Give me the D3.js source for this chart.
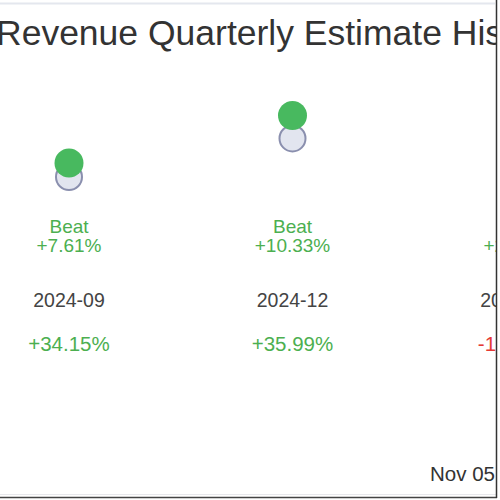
<!DOCTYPE html>
<html><head><meta charset="utf-8">
<script src="https://cdn.jsdelivr.net/npm/d3@7"></script>
<style>html,body{margin:0;padding:0;background:#fff;overflow:hidden}svg{display:block}</style>
</head><body>
<script>
const quarters = ["2024-09", "2024-12", "2025-03"];
const estimates = [184, 222.6, 230];
const actuals = [198.0, 245.6, 235];
const surprises = ["+7.61%", "+10.33%", "+2.14%"];
const surpriseLabels = ["Beat", "Beat", "Beat"];
const growth = ["+34.15%", "+35.99%", "-12.47%"];
const titleText = "Revenue Quarterly Estimate History";
const dateText = "Nov 05, 2025";

const W = 500, H = 500;
const svg = d3.select("body").append("svg").attr("width", W).attr("height", H);
const font = "'Liberation Sans', Arial, sans-serif";
const green = "#4caf50", red = "#e53935";

svg.append("defs").append("clipPath").attr("id", "clip")
  .append("rect").attr("x", -10).attr("y", 0).attr("width", 506).attr("height", 500);

const content = svg.append("g").attr("clip-path", "url(#clip)");

content.append("line").attr("x1", 0).attr("x2", 495).attr("y1", 3.5).attr("y2", 3.5)
  .attr("stroke", "#e4e7ee").attr("stroke-width", 2);
content.append("line").attr("x1", 0).attr("x2", 497).attr("y1", 494.5).attr("y2", 494.5)
  .attr("stroke", "#e8e8ec").attr("stroke-width", 1);

content.append("text").attr("x", -4).attr("y", 45).text(titleText)
  .attr("font-family", font).attr("font-size", 35.5).attr("fill", "#333");

const x = d3.scalePoint().domain(quarters).range([69, 516]);
const y = d3.scaleLinear().domain([0, 300]).range([361, 61]);

const g = content.append("g");
quarters.forEach((q, i) => {
  const cx = x(q);
  g.append("circle").attr("cx", cx).attr("cy", y(estimates[i])).attr("r", 13)
    .attr("fill", "#e2e5ef").attr("stroke", "#8a8fae").attr("stroke-width", 2);
  g.append("circle").attr("cx", cx).attr("cy", y(actuals[i])).attr("r", 14.5)
    .attr("fill", "#48b95f");
  const beat = actuals[i] >= estimates[i];
  g.append("text").attr("x", cx).attr("y", 233).attr("text-anchor", "middle")
    .attr("font-family", font).attr("font-size", 19).attr("fill", beat ? green : red)
    .text(surpriseLabels[i]);
  g.append("text").attr("x", cx).attr("y", 252).attr("text-anchor", "middle")
    .attr("font-family", font).attr("font-size", 19).attr("fill", beat ? green : red)
    .text(surprises[i]);
  g.append("text").attr("x", cx).attr("y", 307).attr("text-anchor", "middle")
    .attr("font-family", font).attr("font-size", 19.5).attr("fill", "#444")
    .text(q);
  g.append("text").attr("x", cx).attr("y", 350.5).attr("text-anchor", "middle")
    .attr("font-family", font).attr("font-size", 20.5).attr("fill", growth[i].startsWith("-") ? red : green)
    .text(growth[i]);
});

content.append("text").attr("x", 430).attr("y", 481).text(dateText)
  .attr("font-family", font).attr("font-size", 20.5).attr("fill", "#333");

svg.append("line").attr("x1", 0).attr("x2", 497).attr("y1", 497.5).attr("y2", 497.5)
  .attr("stroke", "#444").attr("stroke-width", 1.5);
svg.append("line").attr("x1", 496.5).attr("x2", 496.5).attr("y1", 0).attr("y2", 498)
  .attr("stroke", "#333").attr("stroke-width", 1.5);
</script>
</body></html>
